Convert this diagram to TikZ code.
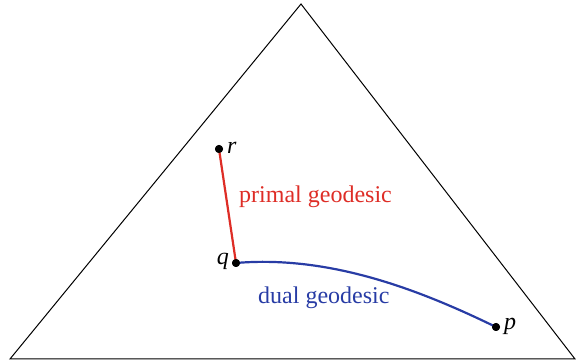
\documentclass[tikz,border=0pt]{standalone}
\usepackage{fontspec}
\setmainfont{Liberation Serif}
\definecolor{pred}{RGB}{222,45,38}
\definecolor{dblue}{RGB}{40,60,165}
\begin{document}
\begin{tikzpicture}[x=1pt,y=-1pt,
  dot/.style={circle,fill=black,inner sep=0pt,minimum size=8pt},
  lbl/.style={font=\fontsize{24}{28}\selectfont\itshape,inner sep=1pt},
  txt/.style={font=\fontsize{24}{28}\selectfont,inner sep=0pt}]
\useasboundingbox (0,0) rectangle (576,363);
\coordinate (A) at (301,4);
\coordinate (B) at (10,359);
\coordinate (C) at (575,359);
\draw[line width=1pt] (A) -- (B) -- (C) -- cycle;
\node[dot] (r) at (219,149) {};
\node[dot] (q) at (236,263) {};
\node[dot] (p) at (496,327) {};
\draw[pred,line width=2.2pt] (r.center) -- (q.center);
\draw[dblue,line width=2.2pt] (q.center) .. controls (330,255) and (420,290) .. (p.center);
\node[dot] at (r) {};
\node[dot] at (q) {};
\node[dot] at (p) {};
\node[lbl,anchor=west] (rl) at (226,148) {r};
\node[lbl,anchor=east] (ql) at (230,261) {q};
\node[lbl,anchor=west] (pl) at (503,326) {p};
\node[txt,pred,anchor=west] (pg) at (239,197) {primal geodesic};
\node[txt,dblue,anchor=west] (dg) at (258,298) {dual geodesic};
\end{tikzpicture}
\end{document}
